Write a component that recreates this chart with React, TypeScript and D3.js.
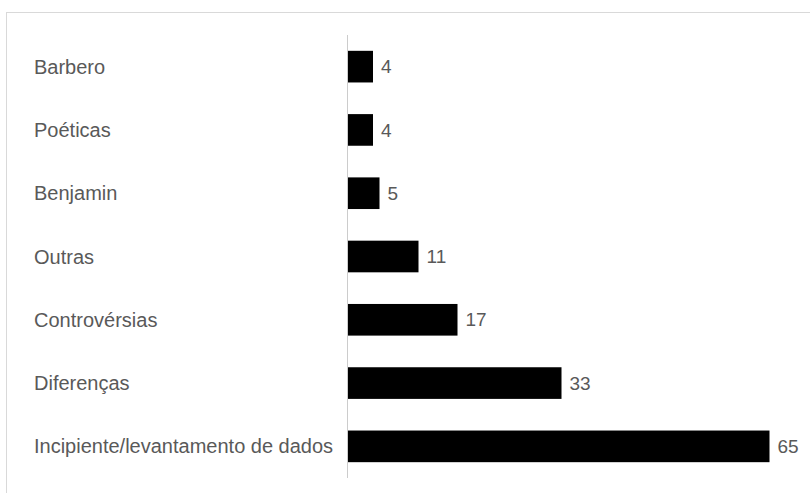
import React from "react";
import * as d3 from "d3";

const categories = [
  "Barbero",
  "Poéticas",
  "Benjamin",
  "Outras",
  "Controvérsias",
  "Diferenças",
  "Incipiente/levantamento de dados",
];
const values = [4, 4, 5, 11, 17, 33, 65];

export default function App() {
  const W = 810;
  const H = 493;
  const x0 = 347;
  const y = d3.scaleBand<string>().domain(categories).range([35, 478]).paddingInner(0.5).paddingOuter(0.25);
  const x = d3.scaleLinear().domain([0, 65]).range([x0, 769.5]);
  return (
    <svg
      width={W}
      height={H}
      style={{ position: "absolute", left: 0, top: 0, background: "#fff" }}
      fontFamily="'Liberation Sans', Arial, sans-serif"
    >
      <rect x={6.5} y={12.5} width={W} height={H} fill="#fff" stroke="#d9d9d9" strokeWidth={1} />
      {categories.map((c, i) => {
        const by = y(c)!;
        const bh = y.bandwidth();
        return (
          <g key={c}>
            <rect x={x0} y={by} width={x(values[i]) - x0} height={bh} fill="#000" />
            <text x={34} y={by + bh / 2} dy="0.35em" fontSize={20} fill="#595959">
              {c}
            </text>
            <text x={x(values[i]) + 8} y={by + bh / 2} dy="0.35em" fontSize={19} fill="#595959">
              {values[i]}
            </text>
          </g>
        );
      })}
      <line x1={x0 + 0.5} x2={x0 + 0.5} y1={35} y2={478} stroke="#ccc" strokeWidth={1} />
    </svg>
  );
}
